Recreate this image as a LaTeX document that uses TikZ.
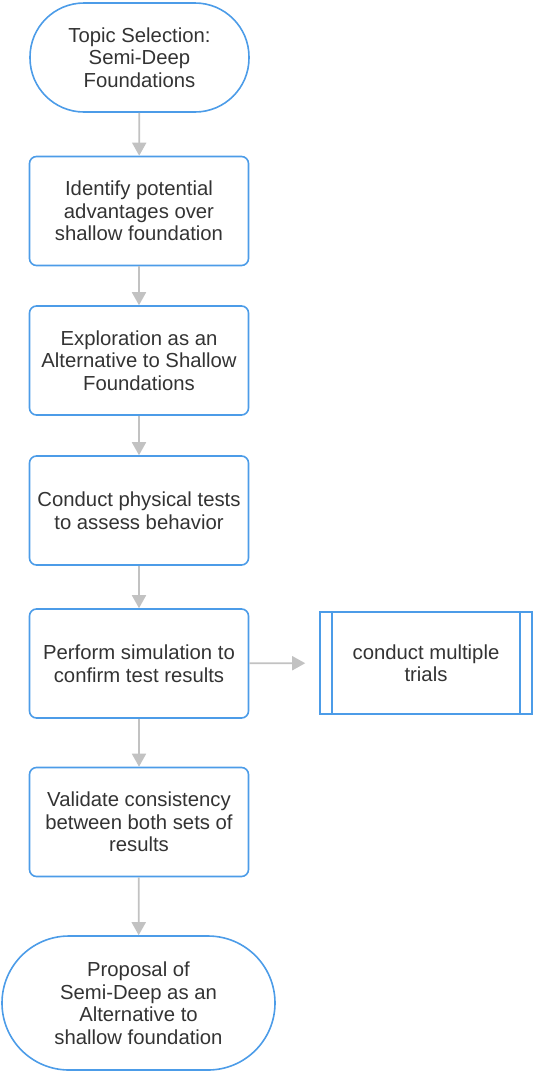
\documentclass[tikz,border=0pt]{standalone}
\usepackage{fontspec}
\setmainfont{Liberation Sans}
\usetikzlibrary{positioning,calc,arrows.meta}
\definecolor{boxblue}{HTML}{4C9CE8}
\definecolor{arrowgray}{HTML}{C2C2C2}
\definecolor{textgray}{HTML}{333333}
\begin{document}
\begin{tikzpicture}[x=1pt, y=-1pt,
    flowtext/.style={align=center, text=textgray, font=\fontsize{20.3}{22.5}\selectfont, inner sep=0pt},
    stepbox/.style={flowtext, draw=boxblue, line width=1.6pt, rounded corners=7pt,
      minimum width=219pt, minimum height=109pt},
    termbox/.style={flowtext, draw=boxblue, line width=1.6pt},
    flowarrow/.style={draw=arrowgray, line width=1.8pt, -{Triangle[width=14pt,length=13pt]}}]
  \useasboundingbox (0,0) rectangle (533,1072);
  % terminals and steps
  \node[termbox, rounded corners=54pt, minimum width=219pt, minimum height=109pt]
    (topic) at (139.5,57.5) {Topic Selection:\\Semi-Deep\\Foundations};
  \node[stepbox] (advantages) at (139,211) {Identify potential\\advantages over\\shallow foundation};
  \node[stepbox] (exploration) at (139,360.5) {Exploration as an\\Alternative to Shallow\\Foundations};
  \node[stepbox] (tests) at (139,510.5) {Conduct physical tests\\to assess behavior};
  \node[stepbox] (simulation) at (139,663.5) {Perform simulation to\\confirm test results};
  \node[stepbox] (validate) at (139,822) {Validate consistency\\between both sets of\\results};
  \node[termbox, rounded corners=67pt, minimum width=273pt, minimum height=134pt]
    (proposal) at (138.5,1003) {Proposal of\\Semi-Deep as an\\Alternative to\\shallow foundation};
  % side process
  \node[flowtext, draw=boxblue, line width=1.6pt, minimum width=212pt, minimum height=102pt]
    (trials) at (426,663) {conduct multiple\\trials};
  \draw[boxblue, line width=1.6pt] ($(trials.north west)+(13,0)$) -- ($(trials.south west)+(13,0)$);
  \draw[boxblue, line width=1.6pt] ($(trials.north east)+(-13,0)$) -- ($(trials.south east)+(-13,0)$);
  % connectors
  \draw[flowarrow] (topic) -- (advantages);
  \draw[flowarrow] (advantages) -- (exploration);
  \draw[flowarrow] (exploration) -- (tests);
  \draw[flowarrow] (tests) -- (simulation);
  \draw[flowarrow] (simulation) -- (validate);
  \draw[flowarrow] (validate) -- (proposal);
  \draw[flowarrow, shorten >=14pt] (simulation) -- (trials);
\end{tikzpicture}
\end{document}
